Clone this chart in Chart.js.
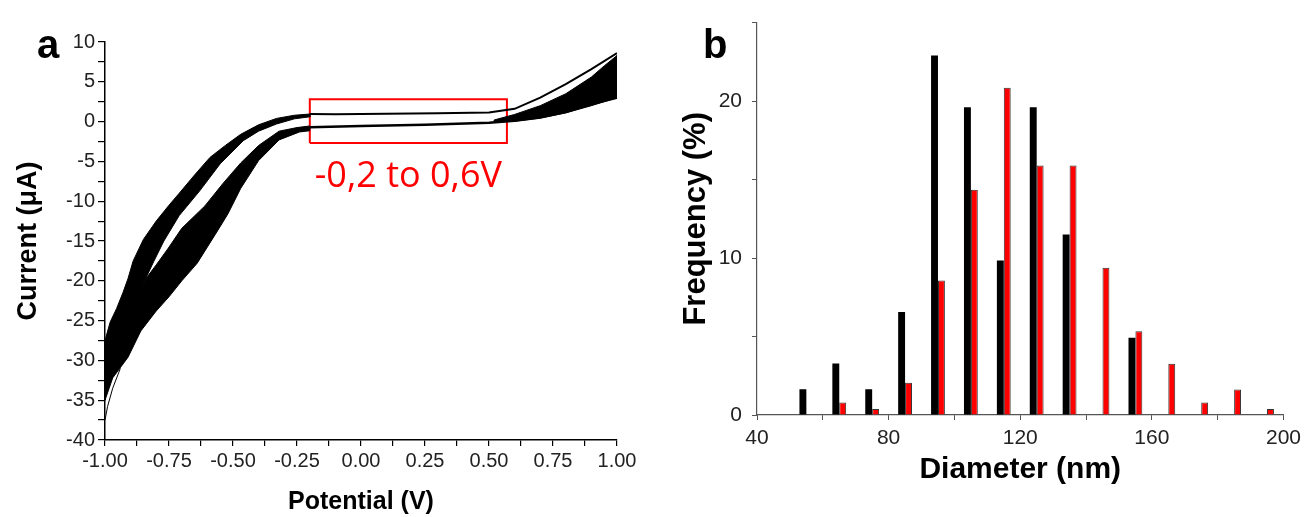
<!DOCTYPE html>
<html>
<head>
<meta charset="utf-8">
<script src="https://cdn.jsdelivr.net/npm/chart.js@4/dist/chart.umd.min.js"></script>
<style>
  body { margin: 0; background: #fff; }
  #wrap { position: relative; width: 1307px; height: 517px; }
  #cv { position: absolute; left: 0; top: 0; }
  #hist { position: absolute; left: 650px; top: 0; }
</style>
</head>
<body>
<div id="wrap">
  <canvas id="cv" width="650" height="517"></canvas>
  <canvas id="hist" width="657" height="517"></canvas>
</div>
<script>
// ---- panel a : cyclic voltammograms (outline of the traced bands) ----
// upper band, outer edge, left to right
let upTopV = [-1.00, -0.98, -0.955, -0.93, -0.91, -0.89, -0.85, -0.80, -0.75, -0.71, -0.65, -0.59, -0.53, -0.47, -0.40, -0.33, -0.26, -0.20]
let upTopI = [-27.5, -25.2, -23.5, -21.5, -19.7, -17.5, -14.8, -12.5, -10.5, -9.0, -6.7, -4.5, -3.0, -1.6, -0.4, 0.4, 0.8, 0.95]
// upper band, inner edge, right to left
let upInV = [-0.20, -0.26, -0.33, -0.40, -0.46, -0.55, -0.63, -0.71, -0.77, -0.81, -0.835, -0.90, -0.95, -1.00]
let upInI = [0.6, 0.35, -0.3, -1.2, -2.4, -5.3, -8.7, -11.8, -15.0, -17.6, -19.3, -24.5, -28.5, -31.0]
// lower band, inner edge, right to left
let loInV = [-0.20, -0.25, -0.32, -0.40, -0.47, -0.54, -0.61, -0.70, -0.755, -0.80, -0.835, -0.90, -0.95, -1.00]
let loInI = [-0.55, -0.75, -1.2, -3.0, -5.2, -7.8, -10.6, -13.4, -16.0, -18.0, -19.5, -24.0, -28.0, -30.0]
// lower band, outer edge, left to right
let loOutV = [-1.00, -0.97, -0.91, -0.86, -0.80, -0.75, -0.70, -0.64, -0.56, -0.52, -0.47, -0.40, -0.32, -0.24, -0.20]
let loOutI = [-35.0, -32.2, -29.6, -26.3, -23.8, -22.0, -20.0, -17.8, -13.7, -11.6, -8.4, -4.9, -2.3, -1.3, -1.15]
// light streaks left between single cycles
let streakUpV = [-0.48, -0.55, -0.62, -0.68]
let streakUpI = [-2.5, -4.6, -7.2, -9.5]
let streakLoV = [-0.46, -0.55, -0.63, -0.70]
let streakLoI = [-5.8, -9.5, -12.8, -15.2]
// thin traces across the flat region
let topLineV = [-0.20, -0.10, 0.10, 0.30, 0.50, 0.60, 0.70, 0.80, 0.90, 1.00]
let topLineI = [0.95, 0.92, 1.0, 1.05, 1.15, 1.6, 3.0, 4.7, 6.6, 8.6]
let botLineV = [-0.20, 0.00, 0.25, 0.50, 0.60, 0.70, 0.80, 0.90, 1.00]
let botLineI = [-0.7, -0.55, -0.4, -0.15, 0.1, 0.5, 1.2, 2.2, 3.0]
// band near +1 V
let rightTopV = [0.52, 0.60, 0.70, 0.80, 0.90, 0.95, 1.00]
let rightTopI = [0.2, 0.9, 2.0, 3.5, 5.6, 7.0, 8.3]
let rightBotV = [1.00, 0.90, 0.80, 0.70, 0.60, 0.52]
let rightBotI = [3.0, 2.0, 1.1, 0.45, 0.05, -0.05]
// single trace dropping at -1 V
let tailV = [-0.94, -0.97, -0.99, -1.00]
let tailI = [-31.0, -33.5, -35.8, -37.5]
// highlighted window
let boxV = [-0.2, 0.57]
let boxI = [-2.7, 2.8]
let boxText = '-0,2 to 0,6V'

// ---- panel b : size distribution ----
let diameters = [55, 65, 75, 85, 95, 105, 115, 125, 135, 145, 155, 165, 175, 185, 195]
let freqBlack = [1.64, 3.28, 1.64, 6.56, 22.9, 19.6, 9.84, 19.6, 11.5, null, 4.92, null, null, null, null]
let freqRed = [null, 0.79, 0.39, 2.05, 8.57, 14.35, 20.85, 15.9, 15.9, 9.38, 5.34, 3.27, 0.79, 1.63, 0.39]

function pts(vs, is){
    return vs.map((v, i) => ({x: v, y: is[i]}))
}
function polygon(v1, i1, v2, i2){
    let p = pts(v1, i1).concat(pts(v2, i2))
    p.push(p[0])
    return p
}

const arial = '"Liberation Sans", Arial, sans-serif'

//draws the panel letter and the red note
const extras = {
    id: 'extras',
    afterDraw(chart, args, opts){
        let ctx = chart.ctx
        ctx.save()
        ctx.fillStyle = '#000'
        ctx.font = 'bold 40px ' + arial
        ctx.textAlign = 'left'
        ctx.textBaseline = 'alphabetic'
        ctx.fillText(opts.letter, opts.lx, opts.ly)
        if(opts.note){
            let xs = chart.scales.x, ys = chart.scales.y
            let cx = (xs.getPixelForValue(boxV[0]) + xs.getPixelForValue(boxV[1])) / 2
            let cy = ys.getPixelForValue(boxI[0]) + 34
            ctx.fillStyle = '#ff0000'
            ctx.font = '36px "Open Sans", "Noto Sans", sans-serif'
            ctx.textAlign = 'center'
            ctx.textBaseline = 'middle'
            ctx.fillText(opts.note, cx, cy)
        }
        ctx.restore()
    }
}

let fillBlack = {showLine: true, pointRadius: 0, borderColor: '#000', backgroundColor: '#000', borderWidth: 1, fill: 'shape'}
let line = {showLine: true, pointRadius: 0, borderColor: '#000', borderWidth: 2, fill: false}
let streak = {showLine: true, pointRadius: 0, borderColor: 'rgba(255,255,255,0.85)', borderWidth: 1, fill: false}

new Chart(document.getElementById('cv'), {
    type: 'scatter',
    data: {
        datasets: [
            Object.assign({data: polygon(upTopV, upTopI, upInV, upInI)}, fillBlack),
            Object.assign({data: polygon(loOutV, loOutI, loInV, loInI)}, fillBlack),
            Object.assign({data: polygon(rightTopV, rightTopI, rightBotV, rightBotI)}, fillBlack),
            Object.assign({data: pts(streakUpV, streakUpI)}, streak),
            Object.assign({data: pts(streakLoV, streakLoI)}, streak),
            Object.assign({data: pts(topLineV, topLineI)}, line),
            Object.assign({data: pts(botLineV, botLineI)}, line, {borderWidth: 2.5}),
            Object.assign({data: pts(tailV, tailI)}, line, {borderWidth: 1}),
            {data: [{x: boxV[0], y: boxI[0]}, {x: boxV[1], y: boxI[0]}, {x: boxV[1], y: boxI[1]}, {x: boxV[0], y: boxI[1]}, {x: boxV[0], y: boxI[0]}],
             showLine: true, pointRadius: 0, borderColor: '#ff0000', borderWidth: 2, fill: false}
        ]
    },
    options: {
        responsive: false,
        animation: false,
        layout: {padding: {top: 42, right: 33, left: 0, bottom: 0}},
        plugins: {
            legend: {display: false},
            tooltip: {enabled: false},
            extras: {letter: 'a', lx: 37, ly: 58, note: boxText}
        },
        scales: {
            x: {
                type: 'linear', min: -1, max: 1,
                ticks: {stepSize: 0.125, autoSkip: false, maxRotation: 0, padding: 3, color: '#222',
                    font: {family: arial, size: 20},
                    callback: v => Math.abs(v * 4 - Math.round(v * 4)) < 1e-6 ? v.toFixed(2) : ''},
                grid: {drawOnChartArea: false, tickLength: 6, color: '#000', lineWidth: 1.2},
                border: {color: '#000', width: 1.5},
                title: {display: true, text: 'Potential (V)', color: '#000', font: {family: arial, size: 25, weight: 'bold'}, padding: {top: 0, bottom: 0}},
                afterFit: s => { s.height = 77 }
            },
            y: {
                type: 'linear', min: -40, max: 10,
                ticks: {stepSize: 2.5, autoSkip: false, padding: 3, color: '#222',
                    font: {family: arial, size: 20},
                    callback: v => v % 5 === 0 ? v : ''},
                grid: {drawOnChartArea: false, tickLength: 7, color: '#000', lineWidth: 1.2},
                border: {color: '#000', width: 1.5},
                title: {display: true, text: 'Current (μA)', color: '#000', font: {family: arial, size: 27, weight: 'bold'}, padding: {top: 12, bottom: 0}},
                afterFit: s => { s.width = 105 }
            }
        }
    },
    plugins: [extras]
})

new Chart(document.getElementById('hist'), {
    type: 'bar',
    data: {
        datasets: [
            {data: pts(diameters, freqBlack), backgroundColor: '#000', borderColor: '#000', borderWidth: 0},
            {data: pts(diameters, freqRed), backgroundColor: '#ff0000', borderColor: '#333', borderWidth: 1}
        ]
    },
    options: {
        responsive: false,
        animation: false,
        categoryPercentage: 0.42,
        barPercentage: 1.0,
        layout: {padding: {top: 15, right: 20, left: 0, bottom: 0}},
        plugins: {
            legend: {display: false},
            tooltip: {enabled: false},
            extras: {letter: 'b', lx: 53, ly: 58}
        },
        scales: {
            x: {
                type: 'linear', min: 40, max: 200, offset: false,
                ticks: {stepSize: 20, autoSkip: false, maxRotation: 0, padding: 6, color: '#222',
                    font: {family: arial, size: 21},
                    callback: v => v % 40 === 0 ? v : ''},
                grid: {offset: false, drawOnChartArea: false, tickLength: 5, color: '#555', lineWidth: 1},
                border: {color: '#555', width: 1.2},
                title: {display: true, text: 'Diameter (nm)', color: '#000', font: {family: arial, size: 30, weight: 'bold'}, padding: {top: 0, bottom: 29}},
                afterFit: s => { s.height = 102 }
            },
            y: {
                type: 'linear', min: 0, max: 25,
                ticks: {stepSize: 5, autoSkip: false, padding: 10, color: '#222',
                    font: {family: arial, size: 21},
                    callback: v => v % 10 === 0 ? v : ''},
                grid: {drawOnChartArea: false, tickLength: 5, color: '#555', lineWidth: 1},
                border: {color: '#555', width: 1.2},
                title: {display: true, text: 'Frequency (%)', color: '#000', font: {family: arial, size: 31, weight: 'bold'}, padding: {top: 28, bottom: 0}},
                afterFit: s => { s.width = 107 }
            }
        }
    },
    plugins: [extras]
})
</script>
</body>
</html>
